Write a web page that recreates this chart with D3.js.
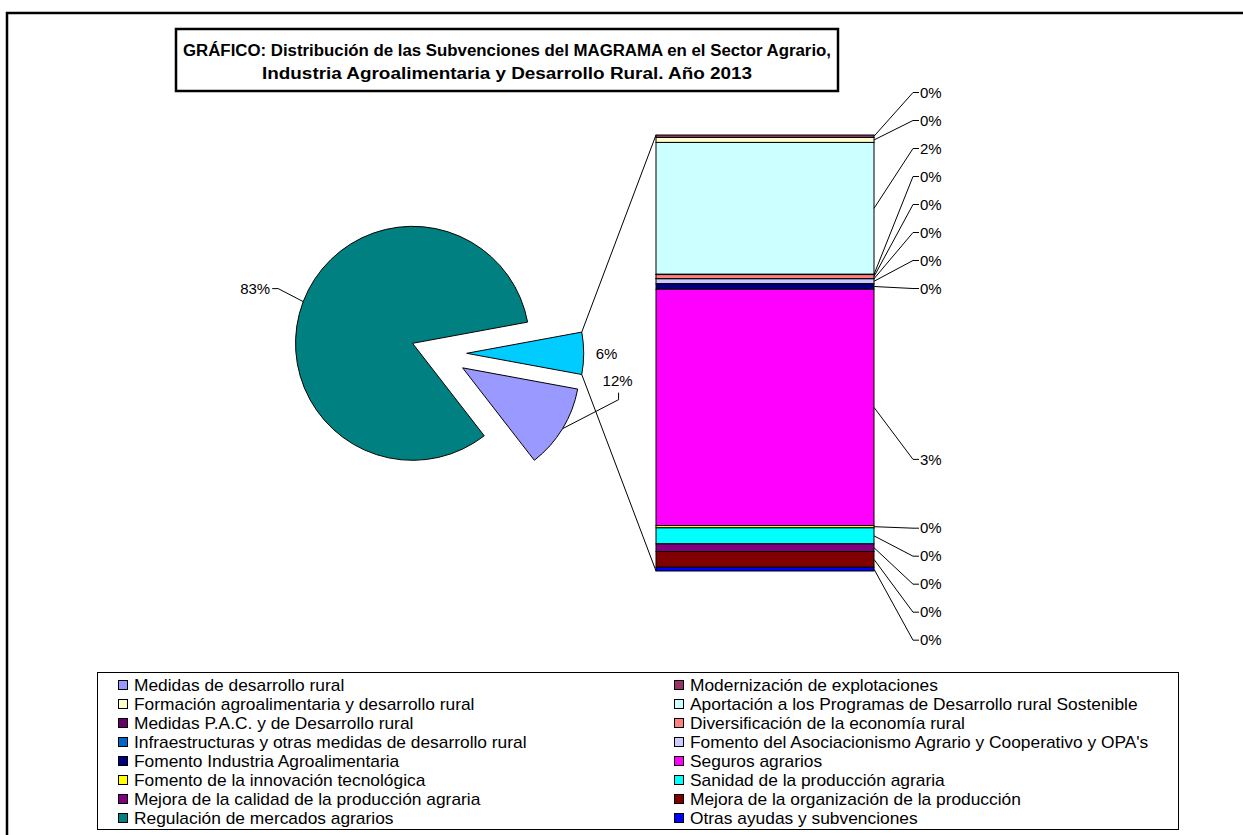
<!DOCTYPE html>
<html>
<head>
<meta charset="utf-8">
<script src="https://cdn.jsdelivr.net/npm/d3@7"></script>
<style>
  body { margin: 0; background: #fff; }
  text { font-family: Arial, "Liberation Sans", sans-serif; fill: #000; }
</style>
</head>
<body>
<div id="chart"></div>
<script>
// legend order (row by row, two columns)
var legendNames = [
  'Medidas de desarrollo rural', 'Modernización de explotaciones',
  'Formación agroalimentaria y desarrollo rural', 'Aportación a los Programas de Desarrollo rural Sostenible',
  'Medidas P.A.C. y de Desarrollo rural', 'Diversificación de la economía rural',
  'Infraestructuras y otras medidas de desarrollo rural', 'Fomento del Asociacionismo Agrario y Cooperativo y OPA\'s',
  'Fomento Industria Agroalimentaria', 'Seguros agrarios',
  'Fomento de la innovación tecnológica', 'Sanidad de la producción agraria',
  'Mejora de la calidad de la producción agraria', 'Mejora de la organización de la producción',
  'Regulación de mercados agrarios', 'Otras ayudas y subvenciones'
];
var legendColors = [
  '#9999FF', '#993366', '#FFFFCC', '#CCFFFF', '#660066', '#FF8080', '#0066CC', '#CCCCFF',
  '#000080', '#FF00FF', '#FFFF00', '#00FFFF', '#800080', '#800000', '#008080', '#0000FF'
];

// pie (share of total, %)
var pieNames = ['Medidas de desarrollo rural', 'Regulación de mercados agrarios'];
var pieValues = [11.6, 82.6];
var otherColor = '#00CCFF';

// bar of pie, top to bottom (share of total, %)
var barNames = [
  'Modernización de explotaciones', 'Formación agroalimentaria y desarrollo rural',
  'Aportación a los Programas de Desarrollo rural Sostenible', 'Medidas P.A.C. y de Desarrollo rural',
  'Diversificación de la economía rural', 'Infraestructuras y otras medidas de desarrollo rural',
  'Fomento del Asociacionismo Agrario y Cooperativo y OPA\'s', 'Fomento Industria Agroalimentaria',
  'Seguros agrarios', 'Fomento de la innovación tecnológica', 'Sanidad de la producción agraria',
  'Mejora de la calidad de la producción agraria', 'Mejora de la organización de la producción',
  'Otras ayudas y subvenciones'
];
var barValues = [0.033, 0.066, 1.754, 0.004, 0.053, 0.003, 0.066, 0.073, 3.143, 0.031, 0.213, 0.102, 0.209, 0.050];

var W = 1243, H = 835;
var colorOf = d3.scaleOrdinal().domain(legendNames).range(legendColors);

var otherTotal = d3.sum(barValues);
var total = d3.sum(pieValues) + otherTotal;
var pct = function(v) { return Math.round(v / total * 100) + '%'; };

var svg = d3.select('#chart').append('svg')
  .attr('width', W).attr('height', H);

// chart area border
svg.append('rect')
  .attr('x', 7).attr('y', 13).attr('width', W + 20).attr('height', H + 20)
  .attr('fill', 'none').attr('stroke', '#000').attr('stroke-width', 2.5);

// title box
var tg = svg.append('g');
tg.append('rect')
  .attr('x', 176).attr('y', 29).attr('width', 662).attr('height', 62)
  .attr('fill', '#fff').attr('stroke', '#000').attr('stroke-width', 2.5);
tg.append('text').attr('x', 507).attr('y', 56).attr('text-anchor', 'middle')
  .attr('font-size', 16).attr('font-weight', 'bold')
  .attr('textLength', 648).attr('lengthAdjust', 'spacingAndGlyphs')
  .text('GRÁFICO: Distribución de las Subvenciones del MAGRAMA en el Sector Agrario,');
tg.append('text').attr('x', 507).attr('y', 79).attr('text-anchor', 'middle')
  .attr('font-size', 16).attr('font-weight', 'bold')
  .attr('textLength', 490).attr('lengthAdjust', 'spacingAndGlyphs')
  .text('Industria Agroalimentaria y Desarrollo Rural. Año 2013');

// ---- pie ----
var cx = 438.7, cy = 353.3, r = 117, explode = 28;
var pieData = [{ name: 'Otros', value: otherTotal, color: otherColor }].concat(
  pieNames.map(function(n, i) { return { name: n, value: pieValues[i], color: colorOf(n) }; }));
var a0 = Math.PI / 2 - otherTotal / total * Math.PI;
var arcs = d3.pie().sort(null).value(function(d) { return d.value; })
  .startAngle(a0).endAngle(a0 + 2 * Math.PI)(pieData);
var arc = d3.arc().innerRadius(0).outerRadius(r);

arcs.forEach(function(a) {
  var m = (a.startAngle + a.endAngle) / 2;
  a.dx = Math.sin(m) * explode;
  a.dy = -Math.cos(m) * explode;
  a.ux = Math.sin(m);
  a.uy = -Math.cos(m);
});

var pg = svg.append('g').attr('transform', 'translate(' + cx + ',' + cy + ')');
pg.selectAll('path').data(arcs).enter().append('path')
  .attr('transform', function(a) { return 'translate(' + a.dx + ',' + a.dy + ')'; })
  .attr('d', arc)
  .attr('fill', function(a) { return a.data.color; })
  .attr('stroke', '#000').attr('stroke-width', 1);

// ---- stacked bar ----
var bx0 = 656, bx1 = 874;
var y = d3.scaleLinear().domain([0, otherTotal]).range([135, 571]);
var acc = 0;
var segs = barValues.map(function(v, i) {
  var s = { name: barNames[i], value: v, y0: acc, y1: acc + v };
  acc += v;
  return s;
});

// connector lines from the "other" slice to the bar
var oth = arcs[0];
var corner = function(ang) {
  return [cx + oth.dx + Math.sin(ang) * r, cy + oth.dy - Math.cos(ang) * r];
};
var cTop = corner(oth.startAngle), cBot = corner(oth.endAngle);
svg.append('line').attr('x1', cTop[0]).attr('y1', cTop[1]).attr('x2', bx0).attr('y2', y(0))
  .attr('stroke', '#000').attr('stroke-width', 1);
svg.append('line').attr('x1', cBot[0]).attr('y1', cBot[1]).attr('x2', bx0).attr('y2', y(otherTotal))
  .attr('stroke', '#000').attr('stroke-width', 1);

svg.append('g').selectAll('rect').data(segs).enter().append('rect')
  .attr('x', bx0).attr('width', bx1 - bx0)
  .attr('y', function(d) { return y(d.y0); })
  .attr('height', function(d) { return y(d.y1) - y(d.y0); })
  .attr('fill', function(d) { return colorOf(d.name); })
  .attr('stroke', '#000').attr('stroke-width', 1);

// bar labels
var mids = segs.map(function(d) { return (y(d.y0) + y(d.y1)) / 2; });
var big = barValues.indexOf(d3.max(barValues));
var spacing = 28;
var ly = [];
ly[big - 1] = mids[big - 1] + 2;
for (var i = big - 2; i >= 0; i--) ly[i] = Math.min(mids[i], ly[i + 1] - spacing);
ly[big] = mids[big] + 52;
ly[big + 1] = mids[big + 1] + 1.5;
for (i = big + 2; i < segs.length; i++) ly[i] = Math.max(mids[i], ly[i - 1] + spacing);

var lg = svg.append('g');
segs.forEach(function(d, i) {
  lg.append('path')
    .attr('d', 'M' + bx1 + ',' + mids[i] + 'L' + 913 + ',' + ly[i] + 'L' + 919 + ',' + ly[i])
    .attr('fill', 'none').attr('stroke', '#000').attr('stroke-width', 1);
  lg.append('text').attr('x', 920).attr('y', ly[i]).attr('dy', '0.35em')
    .attr('font-size', 15).text(pct(d.value));
});

// pie labels
function edge(a, k) {
  return [cx + a.dx + a.ux * k, cy + a.dy + a.uy * k];
}
// other slice: plain label beside the slice
var p6 = edge(arcs[0], r + 12);
svg.append('text').attr('x', p6[0]).attr('y', p6[1]).attr('dy', '0.35em')
  .attr('font-size', 15).text(pct(arcs[0].value));

// Medidas de desarrollo rural: label above, leader going up-right
var e1 = edge(arcs[1], r);
var k1 = [e1[0] + 56, e1[1] - 29];
svg.append('path')
  .attr('d', 'M' + e1[0] + ',' + e1[1] + 'L' + k1[0] + ',' + k1[1] + 'L' + k1[0] + ',' + (k1[1] - 7))
  .attr('fill', 'none').attr('stroke', '#000');
svg.append('text').attr('x', k1[0] - 1).attr('y', k1[1] - 19).attr('dy', '0.35em')
  .attr('text-anchor', 'middle').attr('font-size', 15).text(pct(arcs[1].value));

// Regulación: label to the left
var e2 = edge(arcs[2], r);
var k2 = [e2[0] - 25, e2[1] - 13];
svg.append('path')
  .attr('d', 'M' + e2[0] + ',' + e2[1] + 'L' + k2[0] + ',' + k2[1] + 'L' + (k2[0] - 6) + ',' + k2[1])
  .attr('fill', 'none').attr('stroke', '#000');
svg.append('text').attr('x', k2[0] - 8).attr('y', k2[1]).attr('dy', '0.35em')
  .attr('text-anchor', 'end').attr('font-size', 15).text(pct(arcs[2].value));

// ---- legend ----
var leg = svg.append('g');
leg.append('rect').attr('x', 97.5).attr('y', 672.5).attr('width', 1081).attr('height', 157)
  .attr('fill', '#fff').attr('stroke', '#000').attr('stroke-width', 1);
var items = leg.selectAll('g.item').data(legendNames).enter().append('g')
  .attr('transform', function(d, i) {
    return 'translate(' + (i % 2 ? 674 : 118) + ',' + (685 + 19 * Math.floor(i / 2)) + ')';
  });
items.append('rect').attr('x', 0.5).attr('y', -4.5).attr('width', 9).attr('height', 9)
  .attr('fill', function(d) { return colorOf(d); }).attr('stroke', '#000').attr('stroke-width', 1);
items.append('text').attr('transform', 'translate(16,0) scale(1.085,1)').attr('dy', '0.35em')
  .attr('font-size', 16).text(function(d) { return d; });
</script>
</body>
</html>
